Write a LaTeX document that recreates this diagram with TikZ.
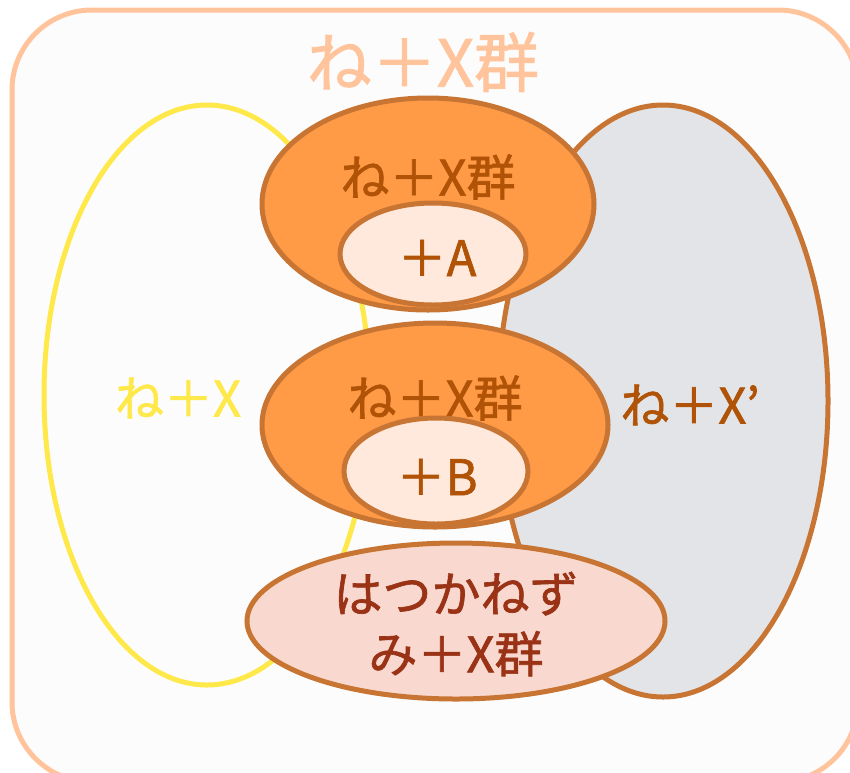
\documentclass[tikz,border=0pt]{standalone}
\usepackage{fontspec}
\newfontfamily\jp{Noto Sans CJK JP}[FakeBold=1.3]
\definecolor{outerc}{HTML}{FFC49C}
\definecolor{yel}{HTML}{FFE94A}
\definecolor{brd}{HTML}{C87533}
\definecolor{greyf}{HTML}{E3E4E8}
\definecolor{orf}{HTML}{FF9A47}
\definecolor{lightf}{HTML}{FFE9DC}
\definecolor{pinkf}{HTML}{F8D8CF}
\definecolor{txtb}{HTML}{B05306}
\definecolor{txtr}{HTML}{9A3216}
\tikzset{
  blob/.style={ellipse, draw=brd, line width=5pt, inner sep=0pt},
  lbl/.style={font=\jp\fontsize{49}{60}\selectfont, text=txtb},
}
\usetikzlibrary{shapes.geometric}
\begin{document}
\begin{tikzpicture}[x=1pt,y=-1pt]
\useasboundingbox (0,0) rectangle (850,772);
\clip (0,0) rectangle (850,772);
\fill[white] (0,0) rectangle (850,772);
\draw[outerc, line width=5pt, rounded corners=80pt, fill=white!99!black] (12,10) rectangle (858,782);
\node[font=\jp\fontsize{65}{70}\selectfont, text=outerc] (title) at (423,62) {ね＋X群};
% yellow ellipse
\node[ellipse, draw=yel, line width=5pt, minimum width=326pt, minimum height=580pt, inner sep=0pt] (left) at (207,395) {};
\node[lbl, text=yel] (leftl) at (178,398) {ね＋X};
% grey ellipse
\node[blob, fill=greyf, minimum width=330pt, minimum height=592pt] (right) at (663,401) {};
\node[lbl] (rightl) at (690,405) {ね＋X’};
% top orange
\node[blob, fill=orf, minimum width=332pt, minimum height=212pt] (top) at (428,204) {};
\node[lbl] (topl) at (428,177) {ね＋X群};
\node[blob, fill=lightf, minimum width=186pt, minimum height=102pt] (a) at (433,254) {};
\node[lbl] (al) at (437,258) {＋A};
% middle orange
\node[blob, fill=orf, minimum width=346pt, minimum height=204pt] (mid) at (435,425) {};
\node[lbl] (midl) at (435,398) {ね＋X群};
\node[blob, fill=lightf, minimum width=184pt, minimum height=106pt] (b) at (436,471) {};
\node[lbl] (bl) at (437,477) {＋B};
% bottom
\node[blob, fill=pinkf, minimum width=418pt, minimum height=156pt] (bot) at (456,621) {};
\node[lbl, text=txtr, align=center] (botl) at (456,624) {はつかねず\\み＋X群};
\end{tikzpicture}
\end{document}
